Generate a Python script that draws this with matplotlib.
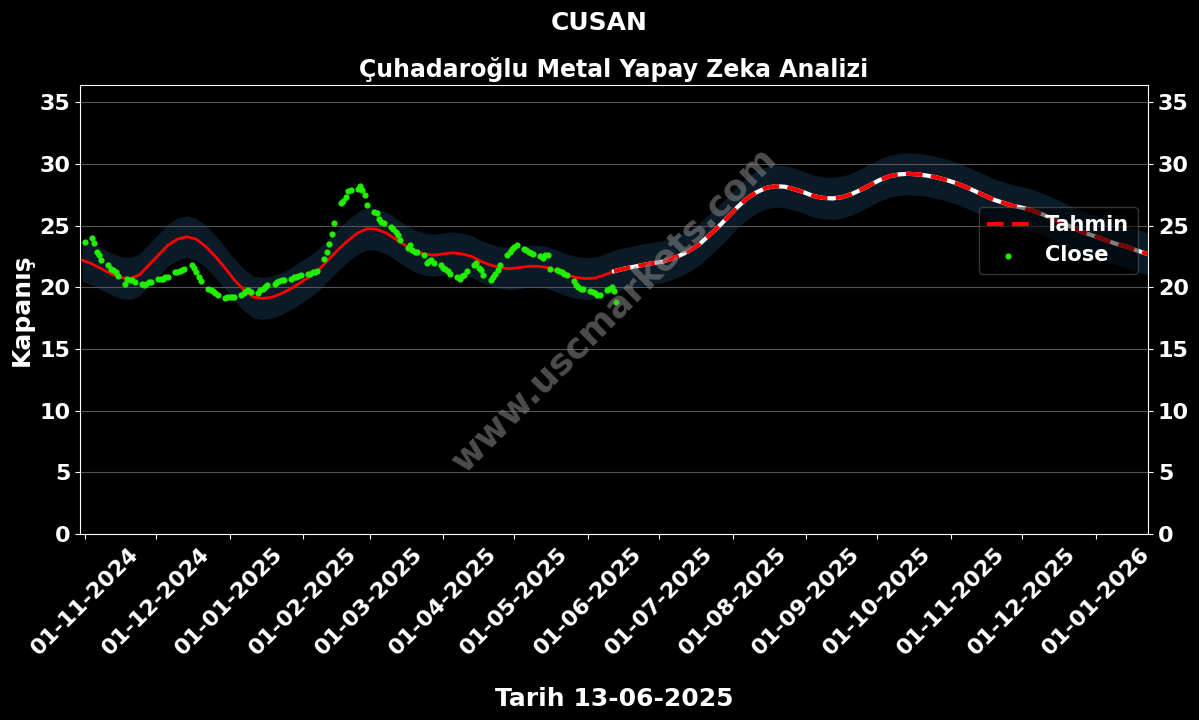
import matplotlib
matplotlib.use("Agg")
import matplotlib.pyplot as plt
import matplotlib.dates as mdates
import pandas as pd
import numpy as np

plt.rcParams['font.family'] = ['DejaVu Sans']
plt.rcParams['font.weight'] = 'bold'

ticker = "CUSAN"
subtitle = "Çuhadaroğlu Metal Yapay Zeka Analizi"
xlabel = "Tarih 13-06-2025"
ylabel = "Kapanış"

# Close prices, business days 2024-11-01 .. 2025-06-13
close_dates = pd.bdate_range("2024-11-01", "2025-06-13")
close_values = [
    23.7,
    24.0, 23.6, 22.9, 22.6, 22.2,
    21.8, 21.5, 21.4, 21.2, 20.9,
    20.3, 20.7, 20.6, 20.6, 20.4,
    20.3, 20.2, 20.3, 20.4, 20.4,
    20.7, 20.7, 20.7, 20.8, 20.8,
    21.2, 21.2, 21.3, 21.4, 21.5,
    21.8, 21.6, 21.2, 20.8, 20.5,
    19.9, 19.8, 19.7, 19.5, 19.4,
    19.1, 19.2,
    19.2, 19.2, 19.2,
    19.4, 19.5, 19.7, 19.8, 19.6,
    19.5, 19.8, 19.9, 20.0, 20.2,
    20.3, 20.4, 20.5, 20.6, 20.6,
    20.7, 20.8, 20.8, 20.9, 21.0,
    21.1, 21.1, 21.2, 21.2, 21.3,
    22.3, 22.9, 23.5, 24.3, 25.2,
    26.8, 27.0, 27.3, 27.8, 27.9,
    28.0, 28.2, 27.9, 27.5, 26.7,
    26.1, 26.0, 25.5, 25.3, 25.2,
    24.9, 24.7, 24.5, 24.2, 23.8,
    23.2, 23.4, 23.0, 22.9, 22.9,
    22.6, 22.0, 22.1, 22.2, 22.0,
    21.8,
    21.6, 21.5, 21.3, 21.1,
    20.8, 20.7, 20.9, 21.0, 21.3,
    21.8, 22.0, 21.6, 21.4, 21.0,
    20.6, 20.8, 21.1, 21.4, 21.8,
    22.6, 22.9, 23.1,
    23.3, 23.4,
    23.1, 23.0, 22.9, 22.8, 22.7,
    22.5, 22.4, 22.6, 22.6, 21.5,
    21.4, 21.3, 21.2, 21.1, 21.0,
    20.5, 20.2, 20.0, 19.9, 19.9,
    19.7, 19.6, 19.5, 19.4, 19.4,
    19.8, 19.9, 20.0, 19.7, 18.8,
]

# Model fit, every 4 days, 2024-10-31 .. 2025-06-12
fit_dates = pd.date_range("2024-10-31", periods=57, freq="4D")
fit_values = [
    22.2, 21.9, 21.5, 21.1, 20.8, 20.7, 21.0, 21.8, 22.6, 23.4,
    23.9, 24.1, 23.9, 23.3, 22.5, 21.6, 20.6, 19.8, 19.2, 19.1,
    19.2, 19.5, 19.9, 20.4, 20.9, 21.5, 22.3, 23.1, 23.8, 24.4,
    24.75, 24.7, 24.4, 23.9, 23.4, 22.95, 22.7, 22.6, 22.7, 22.8,
    22.7, 22.5, 22.1, 21.8, 21.6, 21.5, 21.6, 21.7, 21.7, 21.6,
    21.3, 21.0, 20.8, 20.7, 20.75, 21.0, 21.3,
]

# Forecast, every 4 days, 2025-06-12 .. 2026-01-25
fc_dates = pd.date_range("2025-06-12", periods=58, freq="4D")
fc_values = [
    21.3, 21.5, 21.65, 21.8, 21.95, 22.05, 22.3, 22.6, 23.0, 23.5,
    24.2, 24.9, 25.7, 26.5, 27.2, 27.7, 28.05, 28.2, 28.15, 27.95,
    27.7, 27.4, 27.25, 27.2, 27.3, 27.55, 27.9, 28.3, 28.7, 29.0,
    29.15, 29.2, 29.15, 29.05, 28.9, 28.7, 28.45, 28.15, 27.8, 27.45,
    27.1, 26.85, 26.6, 26.45, 26.25, 25.95, 25.65, 25.3, 24.95, 24.6,
    24.3, 24.05, 23.75, 23.5, 23.3, 23.0, 22.75, 22.5,
]
band_half = 1.7

fig = plt.figure(figsize=(11.99, 7.2), dpi=100, facecolor='black')
ax = fig.add_axes([0.0667, 0.2583, 0.8908, 0.6237])
ax.set_facecolor('black')

band_color = '#0a1a27'
all_dates = list(fit_dates) + list(fc_dates[1:])
all_vals = np.array(fit_values + fc_values[1:])
ax.fill_between(all_dates, all_vals - band_half, all_vals + band_half,
                color=band_color, linewidth=0, zorder=1)

ax.plot(fit_dates, fit_values, color='red', linewidth=2, zorder=3)
ax.plot(fc_dates, fc_values, color='white', linewidth=3, zorder=3)
ax.plot(fc_dates, fc_values, color='red', linewidth=3, linestyle=(0, (4, 2)),
        label='Tahmin', zorder=4)
ax.scatter(close_dates, close_values, color='#22ee00', s=12, zorder=5, label='Close')

ax.set_ylim(0, 36.4)
ax.set_xlim(pd.Timestamp("2024-10-30"), pd.Timestamp("2026-01-23"))
ax.set_yticks(range(0, 36, 5))
ax.grid(axis='y', color='#555555', linewidth=0.8)
ax.grid(axis='x', visible=False)

ax.xaxis.set_major_locator(mdates.MonthLocator())
ax.xaxis.set_major_formatter(mdates.DateFormatter('%d-%m-%Y'))
ax.tick_params(colors='white', labelsize=16, labelright=True, right=True)
for lbl in ax.get_xticklabels():
    lbl.set_rotation(45)
    lbl.set_ha('center')
for lbl in ax.get_xticklabels() + ax.get_yticklabels():
    lbl.set_fontweight('bold')
for s in ax.spines.values():
    s.set_color('white')

ax.set_xlabel(xlabel, color='white', fontsize=18, fontweight='bold', labelpad=20)
ax.set_ylabel(ylabel, color='white', fontsize=18, fontweight='bold')
ax.set_title(subtitle, color='white', fontsize=17, fontweight='bold', pad=6)
fig.suptitle(ticker, color='white', fontsize=18, fontweight='bold', y=0.985)

ax.text(0.5, 0.5, 'www.uscmarkets.com', transform=ax.transAxes,
        rotation=45, ha='center', va='center', fontsize=26, fontweight='bold',
        color='#808080', alpha=0.6, zorder=6)

leg = ax.legend(loc='upper right', bbox_to_anchor=(1.0, 0.752), fontsize=15,
                facecolor='black', edgecolor='#666666', framealpha=0.5)
for t in leg.get_texts():
    t.set_color('white')
    t.set_fontweight('bold')

fig.savefig('out.png', dpi=100, facecolor='black')
